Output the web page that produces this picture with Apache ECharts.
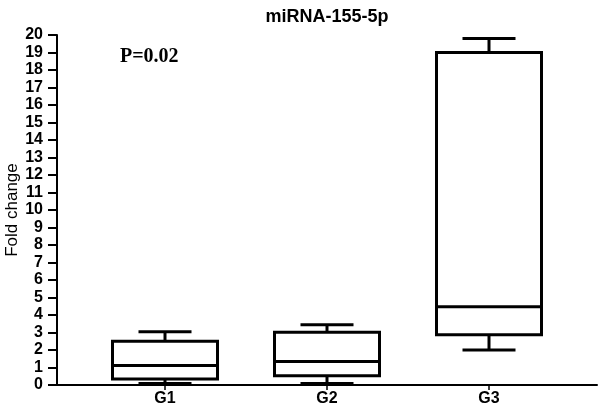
<!DOCTYPE html>
<html>
<head>
<meta charset="utf-8">
<script src="https://cdn.jsdelivr.net/npm/echarts@6/dist/echarts.min.js"></script>
<style>html,body{margin:0;padding:0;background:#fff}#c{width:600px;height:409px}</style>
</head>
<body>
<div id="c"></div>
<script>
const categories = ['G1', 'G2', 'G3'];
const whiskerLow = [0.08, 0.08, 2.0];
const q1 = [0.34, 0.53, 2.87];
const median = [1.12, 1.34, 4.47];
const q3 = [2.5, 3.02, 19.0];
const whiskerHigh = [3.05, 3.45, 19.8];
const yTicks = [0,1,2,3,4,5,6,7,8,9,10,11,12,13,14,15,16,17,18,19,20];

const data = categories.map((c, i) => [i, whiskerLow[i], q1[i], median[i], q3[i], whiskerHigh[i]]);

const chart = echarts.init(document.getElementById('c'), null, {renderer: 'canvas'});
chart.setOption({
  animation: false,
  backgroundColor: '#fff',
  title: {
    text: 'miRNA-155-5p',
    left: 322, top: 3, textAlign: 'center',
    textStyle: {fontFamily: 'Liberation Sans, Arial', fontWeight: 'bold', fontSize: 18, color: '#000'}
  },
  grid: {left: 57, right: 3, top: 35, bottom: 24, containLabel: false, outerBoundsMode: 'none'},
  xAxis: {
    type: 'value', min: -2/3, max: 8/3,
    splitLine: {show: false},
    axisLine: {show: true, onZero: false, lineStyle: {color: '#000', width: 2}},
    axisTick: {show: true, length: 5, lineStyle: {color: '#000', width: 1.5}, customValues: [0,1,2]},
    axisLabel: {
      customValues: [0,1,2],
      formatter: v => categories[Math.round(v)],
      fontFamily: 'Liberation Sans, Arial', fontWeight: 'bold', fontSize: 16, color: '#000', margin: 6
    }
  },
  yAxis: {
    type: 'value', min: 0, max: 20, interval: 1,
    splitLine: {show: false},
    axisLine: {show: true, onZero: false, lineStyle: {color: '#000', width: 2}},
    axisTick: {show: true, inside: false, length: 9, lineStyle: {color: '#000', width: 2}},
    axisLabel: {
      formatter: v => yTicks.includes(v) ? String(v) : '',
      fontFamily: 'Liberation Sans, Arial', fontWeight: 'bold', fontSize: 16, color: '#000', margin: 14
    }
  },
  graphic: [{
    type: 'text', left: 120, top: 47,
    style: {text: 'P=0.02', font: 'bold 20px "Liberation Serif", "Times New Roman", serif', fill: '#000'}
  }, {
    type: 'text', x: 12, y: 210, rotation: Math.PI / 2,
    style: {text: 'Fold change', font: '17px "Liberation Sans", Arial, sans-serif', fill: '#000', align: 'center', verticalAlign: 'middle'}
  }],
  series: [{
    type: 'custom',
    data: data,
    renderItem: function (params, api) {
      const x = api.value(0);
      const unit = api.size([1, 0])[0];
      const bw = unit * 105 / 162;
      const cw = unit * 53 / 162;
      const pLow = api.coord([x, api.value(1)]);
      const pQ1 = api.coord([x, api.value(2)]);
      const pMed = api.coord([x, api.value(3)]);
      const pQ3 = api.coord([x, api.value(4)]);
      const pHigh = api.coord([x, api.value(5)]);
      const cx = pQ1[0];
      const st = {stroke: '#000', lineWidth: 3, fill: null};
      return {
        type: 'group',
        children: [
          {type: 'line', shape: {x1: cx, y1: pHigh[1], x2: cx, y2: pQ3[1]}, style: st},
          {type: 'line', shape: {x1: cx, y1: pLow[1], x2: cx, y2: pQ1[1]}, style: st},
          {type: 'line', shape: {x1: cx - cw/2, y1: pHigh[1], x2: cx + cw/2, y2: pHigh[1]}, style: st},
          {type: 'line', shape: {x1: cx - cw/2, y1: pLow[1], x2: cx + cw/2, y2: pLow[1]}, style: st},
          {type: 'rect', shape: {x: cx - bw/2, y: pQ3[1], width: bw, height: pQ1[1] - pQ3[1]}, style: {stroke: '#000', lineWidth: 3, fill: '#fff'}},
          {type: 'line', shape: {x1: cx - bw/2, y1: pMed[1], x2: cx + bw/2, y2: pMed[1]}, style: st}
        ]
      };
    }
  }]
});
</script>
</body>
</html>
